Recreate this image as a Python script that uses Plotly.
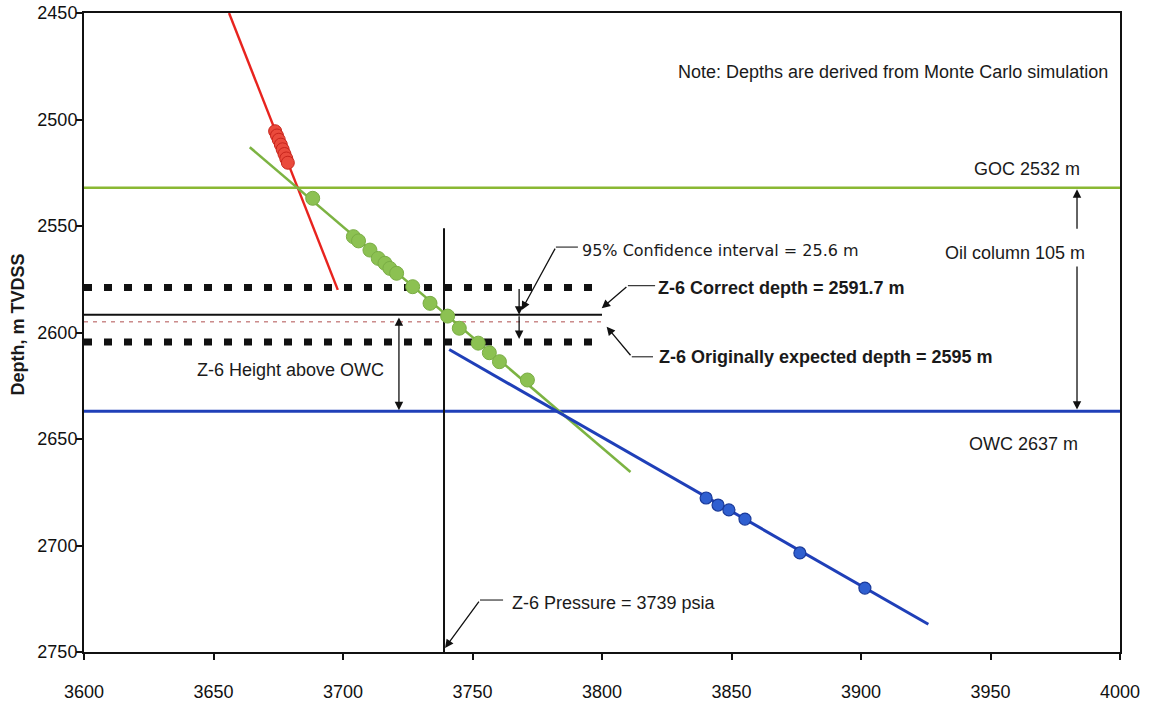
import plotly.graph_objects as go

# Pressure (psia) vs depth (m TVDSS) survey points
gas_pressure = [3673.8, 3674.5, 3675.2, 3676.0, 3676.7, 3677.4, 3678.1, 3678.7]
gas_depth = [2505.5, 2507.5, 2509.5, 2511.8, 2514.0, 2516.2, 2518.3, 2520.3]

oil_pressure = [3688.3, 3704.0, 3706.0, 3710.4, 3713.6, 3716.2, 3718.1, 3720.7,
                3726.9, 3733.6, 3740.4, 3744.9, 3752.2, 3756.5, 3760.4, 3771.2]
oil_depth = [2537.0, 2555.0, 2557.0, 2561.3, 2565.2, 2567.5, 2569.9, 2572.2,
             2578.5, 2586.3, 2592.3, 2598.0, 2605.0, 2609.5, 2613.7, 2622.3]

water_pressure = [3840.2, 3844.8, 3849.0, 3855.2, 3876.4, 3901.5]
water_depth = [2677.7, 2681.0, 2683.3, 2687.6, 2703.5, 2720.0]

# Fitted gradient lines (end points)
gas_line_pressure = [3656.0, 3698.0]
gas_line_depth = [2450.0, 2580.0]
oil_line_pressure = [3664.0, 3811.0]
oil_line_depth = [2513.0, 2665.5]
water_line_pressure = [3741.0, 3926.0]
water_line_depth = [2608.0, 2737.0]

# Contacts and Z-6 results
goc_depth = 2532
owc_depth = 2637
z6_correct_depth = 2591.7
z6_expected_depth = 2595
ci_width = 25.6
z6_pressure = 3739
oil_column = owc_depth - goc_depth

x_ticks = [3600, 3650, 3700, 3750, 3800, 3850, 3900, 3950, 4000]
y_ticks = [2450, 2500, 2550, 2600, 2650, 2700, 2750]

X_MIN, X_MAX = 3600, 4000
Y_MIN, Y_MAX = 2450, 2750
DEPTH_LINE_END = 3800

FONT = "Arial, Liberation Sans, sans-serif"
GREEN_LINE = "#8ab833"
GREEN_PT = "#8cc152"
BLUE_LINE = "#1f3fb8"
BLUE_PT = "#2f5fd0"
RED_LINE = "#e8231e"

fig = go.Figure()

# Contact lines
fig.add_trace(go.Scatter(x=[X_MIN, X_MAX], y=[goc_depth, goc_depth], mode="lines",
                         line=dict(color=GREEN_LINE, width=2.5), hoverinfo="skip"))
fig.add_trace(go.Scatter(x=[X_MIN, X_MAX], y=[owc_depth, owc_depth], mode="lines",
                         line=dict(color=BLUE_LINE, width=3), hoverinfo="skip"))

# Confidence interval bounds
half_ci = ci_width / 2
for d in (z6_correct_depth - half_ci, z6_correct_depth + half_ci):
    fig.add_trace(go.Scatter(x=[X_MIN, DEPTH_LINE_END], y=[d, d], mode="lines",
                             line=dict(color="#111111", width=7, dash="8px,12px"),
                             hoverinfo="skip"))

# Z-6 correct and originally expected depths
fig.add_trace(go.Scatter(x=[X_MIN, DEPTH_LINE_END], y=[z6_correct_depth, z6_correct_depth],
                         mode="lines", line=dict(color="#111111", width=2), hoverinfo="skip"))
fig.add_trace(go.Scatter(x=[X_MIN, DEPTH_LINE_END], y=[z6_expected_depth, z6_expected_depth],
                         mode="lines", line=dict(color="#b05050", width=1, dash="4px,5px"),
                         hoverinfo="skip"))

# Z-6 pressure
fig.add_trace(go.Scatter(x=[z6_pressure, z6_pressure], y=[2551, Y_MAX], mode="lines",
                         line=dict(color="#111111", width=2), hoverinfo="skip"))

# Gradient lines
fig.add_trace(go.Scatter(x=gas_line_pressure, y=gas_line_depth, mode="lines",
                         line=dict(color=RED_LINE, width=2.4), hoverinfo="skip"))
fig.add_trace(go.Scatter(x=oil_line_pressure, y=oil_line_depth, mode="lines",
                         line=dict(color="#7cb342", width=2.5), hoverinfo="skip"))
fig.add_trace(go.Scatter(x=water_line_pressure, y=water_line_depth, mode="lines",
                         line=dict(color=BLUE_LINE, width=3), hoverinfo="skip"))

# Pressure points
fig.add_trace(go.Scatter(x=gas_pressure, y=gas_depth, mode="markers",
                         marker=dict(color="#ea4a3c", size=13, line=dict(color="#c8251c", width=1))))
fig.add_trace(go.Scatter(x=oil_pressure, y=oil_depth, mode="markers",
                         marker=dict(color=GREEN_PT, size=14, line=dict(color="#7aad45", width=1))))
fig.add_trace(go.Scatter(x=water_pressure, y=water_depth, mode="markers",
                         marker=dict(color=BLUE_PT, size=12, line=dict(color="#1a3a9a", width=1.2))))

# Leader segments (horizontal parts)
leaders = [
    ([3782.2, 3790.7], [2559.9, 2559.9]),
    ([3810.0, 3820.5], [2578.0, 2578.0]),
    ([3811.5, 3819.7], [2611.4, 2611.4]),
    ([3752.9, 3761.8], [2725.6, 2725.6]),
]
for lx, ly in leaders:
    fig.add_trace(go.Scatter(x=lx, y=ly, mode="lines",
                             line=dict(color="#333333", width=1.2), hoverinfo="skip"))

annotations = []


def arrow(x, y, ax, ay, both=False, width=1.3):
    annotations.append(dict(
        x=x, y=y, ax=ax, ay=ay, xref="x", yref="y", axref="x", ayref="y",
        text="", showarrow=True, arrowhead=2, arrowsize=1.3, arrowwidth=width,
        arrowcolor="#111111", arrowside="end+start" if both else "end",
        startarrowhead=2, startarrowsize=1.3))


def label(x, y, text, anchor="left", size=18, bold=False, family=FONT):
    annotations.append(dict(
        x=x, y=y, xref="x", yref="y", text=f"<b>{text}</b>" if bold else text,
        showarrow=False, xanchor=anchor, yanchor="middle",
        font=dict(family=family, size=size, color="#1a1a1a")))


# Arrows
arrow(3769.0, 2589.4, 3782.2, 2559.9)                      # CI leader
arrow(3768.0, z6_correct_depth, 3768.0, z6_correct_depth - half_ci)
arrow(3768.0, z6_correct_depth + half_ci - 1.5, 3768.0, z6_correct_depth)
arrow(3799.9, 2588.6, 3810.0, 2578.0)                      # correct depth leader
arrow(3801.8, 2597.3, 3811.5, 2611.4)                      # expected depth leader
arrow(z6_pressure + 0.4, 2748.1, 3752.9, 2725.6)           # pressure leader
arrow(3721.6, owc_depth - 0.5, 3721.6, z6_correct_depth + 0.5, both=True)  # height above OWC
arrow(3983.4, goc_depth + 0.8, 3983.4, 2552.0)             # oil column, upper
arrow(3983.4, owc_depth - 0.8, 3983.4, 2568.3)             # oil column, lower

# Text labels
label(3996, 2477.7, "Note: Depths are derived from Monte Carlo simulation", anchor="right")
label(3985.3, 2523.2, f"GOC {goc_depth} m", anchor="right")
label(3987.3, 2562.7, f"Oil column {oil_column} m", anchor="right")
label(3984.6, 2652.3, f"OWC {owc_depth} m", anchor="right")
label(3791.5, 2561.3, f"95% Confidence interval = {ci_width} m", size=16,
      family="DejaVu Sans, Arial, sans-serif")
label(3821.0, 2579.1, f"Z-6 Correct depth = {z6_correct_depth} m", bold=True)
label(3821.2, 2611.5, f"Z-6 Originally expected depth = {z6_expected_depth} m", bold=True)
label(3679.7, 2617.6, "Z-6 Height above OWC", anchor="center")
label(3764.5, 2727.1, f"Z-6 Pressure = {z6_pressure} psia")

# Axis title
annotations.append(dict(
    x=-0.064, y=0.512, xref="paper", yref="paper", text="<b>Depth, m TVDSS</b>",
    textangle=-90, showarrow=False, xanchor="center", yanchor="middle",
    font=dict(family=FONT, size=18, color="#1a1a1a")))

axis_common = dict(
    showline=True, linecolor="#111111", linewidth=2, mirror=True,
    ticks="outside", ticklen=6, tickwidth=1.5, tickcolor="#111111",
    showgrid=False, zeroline=False, automargin=False,
    tickfont=dict(family=FONT, size=18, color="#111111"),
)

fig.update_layout(
    width=1149, height=703,
    margin=dict(l=84, r=29, t=13, b=51),
    paper_bgcolor="white", plot_bgcolor="white",
    showlegend=False,
    annotations=annotations,
    xaxis=dict(range=[X_MIN, X_MAX], tickvals=x_ticks, ticklabelstandoff=16, **axis_common),
    yaxis=dict(range=[Y_MAX, Y_MIN], tickvals=y_ticks, ticklabelstandoff=-5, **axis_common),
)

fig.write_html("out.html")
